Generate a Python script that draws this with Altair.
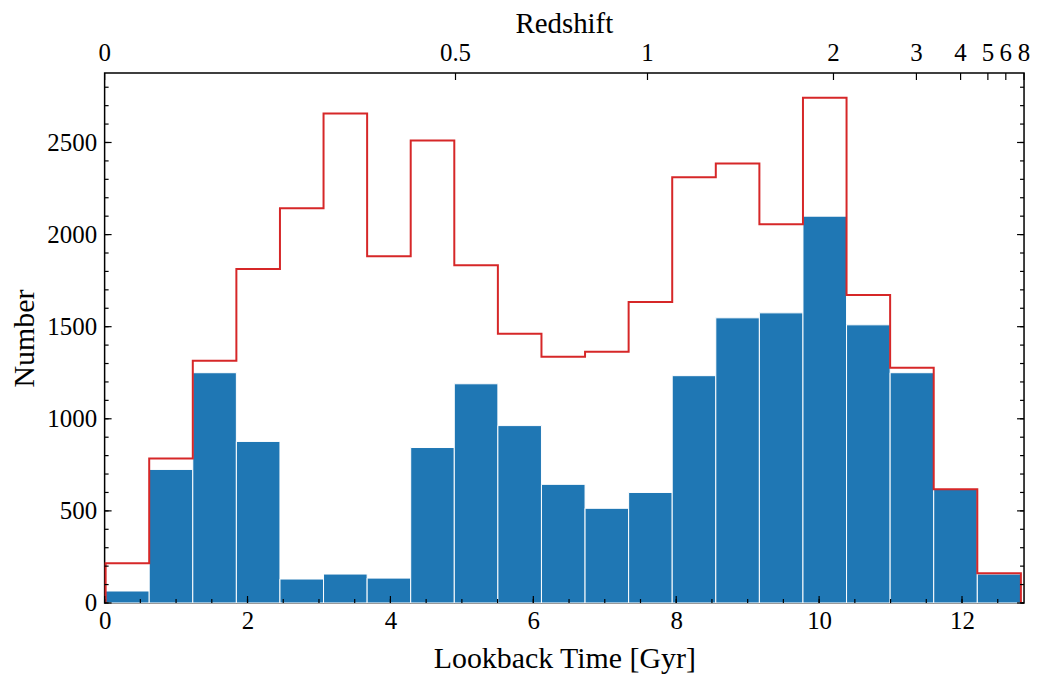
import altair as alt
import pandas as pd

# ---- data ----
bin_start = 0.014          # Gyr, left edge of first bin
bin_width = 0.610          # Gyr
x_max = 12.868             # right edge of the axis (z = 8)
y_max = 2877

blue_counts = [65, 725, 1250, 877, 130, 157, 135, 844, 1190, 963, 644,
               514, 600, 1234, 1548, 1575, 2100, 1510, 1250, 617, 157]
red_counts = [216, 785, 1315, 1813, 2143, 2657, 1883, 2511, 1834, 1461, 1337,
              1364, 1634, 2311, 2386, 2056, 2743, 1672, 1277, 617, 162]

redshift_labels = ["0", "0.5", "1", "2", "3", "4", "5", "6", "8"]
redshift_lookback = [0.0, 4.911, 7.598, 10.201, 11.362, 11.980, 12.362, 12.613, 12.868]

x_major = [0, 2, 4, 6, 8, 10, 12]
x_minor = [v * 0.5 for v in range(0, 26)]
y_major = [0, 500, 1000, 1500, 2000, 2500]
y_minor = list(range(0, 2900, 100))

W, H = 923, 532
FONT = "Liberation Serif"
BLUE = "#1f77b4"
RED = "#d62728"

edges = [bin_start + i * bin_width for i in range(len(blue_counts) + 1)]

bars = pd.DataFrame({
    "x0": edges[:-1],
    "x1": edges[1:],
    "n": blue_counts,
})

# step outline path (histtype="step")
sx, sy = [edges[0]], [0]
for i, r in enumerate(red_counts):
    sx += [edges[i], edges[i + 1]]
    sy += [r, r]
sx.append(edges[-1]); sy.append(0)
step = pd.DataFrame({"x": sx, "y": sy, "o": list(range(len(sx)))})

xs = alt.Scale(domain=[0, x_max], nice=False, zero=False)
ys = alt.Scale(domain=[0, y_max], nice=False)

xaxis = alt.Axis(values=x_major, format="d", ticks=False, domain=False, grid=False,
                 labelFont=FONT, labelFontSize=25, labelColor="black",
                 labelPadding=6, title="Lookback Time [Gyr]", titleFont=FONT,
                 titleFontSize=30, titleFontWeight="normal", titleColor="black",
                 titlePadding=10, labelFlush=False)
yaxis = alt.Axis(values=y_major, format="d", ticks=False, domain=False, grid=False,
                 labelFont=FONT, labelFontSize=25, labelColor="black",
                 labelPadding=8, title="Number", titleFont=FONT,
                 titleFontSize=30, titleFontWeight="normal", titleColor="black",
                 titlePadding=7, labelFlush=False)

bar_layer = alt.Chart(bars).mark_rect(color=BLUE, stroke="white", strokeWidth=1).encode(
    x=alt.X("x0:Q", scale=xs, axis=xaxis),
    x2="x1:Q",
    y=alt.Y("n:Q", scale=ys, axis=yaxis),
    y2=alt.datum(0),
)

step_layer = alt.Chart(step).mark_line(color=RED, strokeWidth=2, interpolate="linear",
                                       strokeJoin="miter").encode(
    x=alt.X("x:Q", scale=xs),
    y=alt.Y("y:Q", scale=ys),
    order="o:Q",
)

# inward ticks
xmaj = pd.DataFrame({"v": x_major})
xmin = pd.DataFrame({"v": x_minor})
ymaj = pd.DataFrame({"v": y_major})
ymin = pd.DataFrame({"v": y_minor})
ztk = pd.DataFrame({"v": redshift_lookback, "lab": redshift_labels})

def xticks(df, y0, y1):
    return alt.Chart(df).mark_rule(color="black", strokeWidth=1.2).encode(
        x=alt.X("v:Q", scale=xs), y=alt.value(y0), y2=alt.value(y1))

def yticks(df, x0, x1):
    return alt.Chart(df).mark_rule(color="black", strokeWidth=1.2).encode(
        y=alt.Y("v:Q", scale=ys), x=alt.value(x0), x2=alt.value(x1))

tick_layers = [
    xticks(xmaj, H, H - 7), xticks(xmin, H, H - 4),
    yticks(ymaj, 0, 7), yticks(ymin, 0, 4),
    yticks(ymaj, W, W - 7), yticks(ymin, W, W - 4),
    xticks(ztk, 0, 7),
]

top_labels = alt.Chart(ztk).mark_text(font=FONT, fontSize=25, color="black",
                                      baseline="alphabetic", align="center").encode(
    x=alt.X("v:Q", scale=xs), y=alt.value(-12), text="lab:N")

top_title = alt.Chart(pd.DataFrame({"t": ["Redshift"]})).mark_text(
    font=FONT, fontSize=29, color="black", baseline="alphabetic", align="center"
).encode(x=alt.value(W / 2), y=alt.value(-40), text="t:N")

chart = alt.layer(bar_layer, step_layer, *tick_layers, top_labels, top_title).properties(
    width=W, height=H,
    padding={"left": 97, "top": 64, "right": 8, "bottom": 70},
    autosize=alt.AutoSizeParams(type="none"),
).configure_view(stroke="black", strokeWidth=1.5)

chart.save("out.html", embed_options={"renderer": "svg", "actions": False})
